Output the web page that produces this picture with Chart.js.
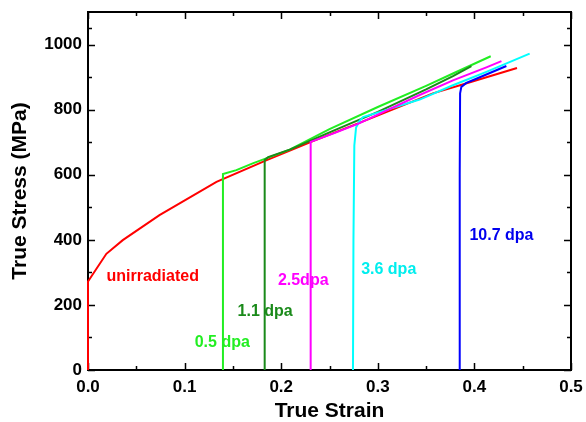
<!DOCTYPE html>
<html>
<head>
<meta charset="utf-8">
<script src="https://cdn.jsdelivr.net/npm/chart.js@4/dist/chart.umd.min.js"></script>
<style>
html,body{margin:0;padding:0;background:#fff;}
#c{display:block;}
</style>
</head>
<body>
<canvas id="c" width="586" height="422"></canvas>
<script>
// ---- data (strain, true stress MPa) ----
const unirradiated = [[0,0],[0,272],[0.019,357],[0.036,399],[0.074,476],[0.133,578],[0.185,645],[0.231,701],[0.29,770],[0.357,850],[0.392,881],[0.4441,928]];
const dpa05 = [[0.1397,0],[0.1397,602],[0.1536,614],[0.1705,635],[0.2088,677],[0.25,740],[0.30,808],[0.35,873],[0.3778,911],[0.4169,964]];
const dpa11 = [[0.1829,0],[0.1829,645],[0.1865,654],[0.2088,677],[0.25,730],[0.30,793],[0.35,862],[0.3778,903],[0.3969,934]];
const dpa25 = [[0.2305,0],[0.2305,701],[0.255,728],[0.28,757],[0.3433,845],[0.3778,890],[0.4124,930],[0.428,949]];
const dpa36 = [[0.2743,0],[0.2748,400],[0.2757,690],[0.2775,745],[0.281,765],[0.2847,777],[0.31,800],[0.3433,831],[0.3778,875],[0.4124,916],[0.4572,972]];
const dpa107 = [[0.3848,0],[0.3848,600],[0.3852,850],[0.3865,870],[0.3917,882],[0.402,895],[0.4331,934]];

const xTickValues = [0, 0.1, 0.2, 0.3, 0.4, 0.5];
const yTickValues = [0, 200, 400, 600, 800, 1000];
const seriesLabels = ['10.7 dpa', '2.5dpa', '3.6 dpa', '1.1 dpa', '0.5 dpa', 'unirradiated'];

// text annotations anchored in data coordinates (centre of text)
const annotations = [
  {text:'unirradiated', x:0.067, y:286, color:'#ff0000'},
  {text:'0.5 dpa', x:0.139, y:84, color:'#22ee22'},
  {text:'1.1 dpa', x:0.1834, y:179, color:'#1a8a1a'},
  {text:'2.5dpa', x:0.2228, y:274, color:'#ff00ff'},
  {text:'3.6 dpa', x:0.3113, y:310, color:'#00eeee'},
  {text:'10.7 dpa', x:0.428, y:414, color:'#0000ee'}
];

const toPts = a => a.map(p => ({x:p[0], y:p[1]}));

const framePlugin = {
  id:'frame',
  beforeDatasetsDraw(chart){
    const {ctx, chartArea:a, scales:{x, y}} = chart;
    ctx.save();
    ctx.strokeStyle = '#000';
    ctx.lineWidth = 1.5;
    ctx.beginPath();
    for (let i = 0; i < xTickValues.length; i++) {
      const v = xTickValues[i];
      const px = Math.round(x.getPixelForValue(v)) + 0.5;
      ctx.moveTo(px, a.bottom); ctx.lineTo(px, a.bottom - 7);
      ctx.moveTo(px, a.top); ctx.lineTo(px, a.top + 7);
      if (i < xTickValues.length - 1) {
        const m = (v + xTickValues[i+1]) / 2;
        const pm = Math.round(x.getPixelForValue(m)) + 0.5;
        ctx.moveTo(pm, a.bottom); ctx.lineTo(pm, a.bottom - 4);
        ctx.moveTo(pm, a.top); ctx.lineTo(pm, a.top + 4);
      }
    }
    const yAll = yTickValues.concat([y.max]);
    for (let i = 0; i < yAll.length; i++) {
      const v = yAll[i];
      const py = Math.round(y.getPixelForValue(v)) + 0.5;
      if (i < yTickValues.length) {
        ctx.moveTo(a.left, py); ctx.lineTo(a.left + 7, py);
        ctx.moveTo(a.right, py); ctx.lineTo(a.right - 7, py);
      }
      if (i < yAll.length - 1) {
        const m = (v + yAll[i+1]) / 2;
        if (m < y.max) {
          const pm = Math.round(y.getPixelForValue(m)) + 0.5;
          ctx.moveTo(a.left, pm); ctx.lineTo(a.left + 4, pm);
          ctx.moveTo(a.right, pm); ctx.lineTo(a.right - 4, pm);
        }
      }
    }
    ctx.stroke();
    ctx.lineWidth = 2;
    ctx.strokeRect(a.left, a.top, a.right - a.left, a.bottom - a.top);
    ctx.restore();
  },
  afterDatasetsDraw(chart){
    const {ctx, scales:{x, y}} = chart;
    ctx.save();
    ctx.font = 'bold 16px "Liberation Sans", Arial, sans-serif';
    ctx.textAlign = 'center';
    ctx.textBaseline = 'middle';
    for (const t of annotations) {
      ctx.fillStyle = t.color;
      ctx.fillText(t.text, x.getPixelForValue(t.x), y.getPixelForValue(t.y));
    }
    ctx.restore();
  }
};

const mk = (label, data, color) => ({
  label, data: toPts(data), borderColor: color, backgroundColor: color,
  borderWidth: 2, pointRadius: 0, tension: 0, fill: false, showLine: true,
  clip: {left: 2, top: 2, right: 2, bottom: 1}
});

new Chart(document.getElementById('c'), {
  type: 'line',
  data: {
    datasets: [
      mk(seriesLabels[0], dpa107, '#0000ff'),
      mk(seriesLabels[1], dpa25, '#ff00ff'),
      mk(seriesLabels[2], dpa36, '#00ffff'),
      mk(seriesLabels[3], dpa11, '#1a8a1a'),
      mk(seriesLabels[4], dpa05, '#22ee22'),
      mk(seriesLabels[5], unirradiated, '#ff0000')
    ]
  },
  options: {
    responsive: false,
    animation: false,
    devicePixelRatio: 1,
    layout: {padding: {top: 12, right: 15, left: 0, bottom: 0}},
    plugins: {legend: {display: false}, tooltip: {enabled: false}},
    scales: {
      x: {
        type: 'linear', min: 0, max: 0.5,
        grid: {display: false, drawTicks: false}, border: {display: false},
        afterBuildTicks: s => { s.ticks = xTickValues.map(v => ({value: v})); },
        afterFit: s => { s.height = 52; s.paddingLeft = 0; s.paddingRight = 0; },
        ticks: {
          padding: 7, color: '#000', maxRotation: 0,
          font: {family: '"Liberation Sans", Arial, sans-serif', size: 17, weight: 'bold'},
          callback: v => Number(v).toFixed(1)
        },
        title: {
          display: true, text: 'True Strain', color: '#000',
          font: {family: '"Liberation Sans", Arial, sans-serif', size: 21, weight: 'bold', lineHeight: 1},
          padding: {top: 0, bottom: 0}
        }
      },
      y: {
        type: 'linear', min: 0, max: 1100,
        grid: {display: false, drawTicks: false}, border: {display: false},
        afterBuildTicks: s => { s.ticks = yTickValues.map(v => ({value: v})); },
        afterFit: s => { s.width = 88; s.paddingTop = 0; s.paddingBottom = 0; },
        ticks: {
          padding: 6, color: '#000',
          font: {family: '"Liberation Sans", Arial, sans-serif', size: 17, weight: 'bold'},
          callback: v => String(v)
        },
        title: {
          display: true, text: 'True Stress (MPa)', color: '#000',
          font: {family: '"Liberation Sans", Arial, sans-serif', size: 21, weight: 'bold', lineHeight: 1},
          padding: {top: 10, bottom: 0}
        }
      }
    }
  },
  plugins: [framePlugin]
});
</script>
</body>
</html>
